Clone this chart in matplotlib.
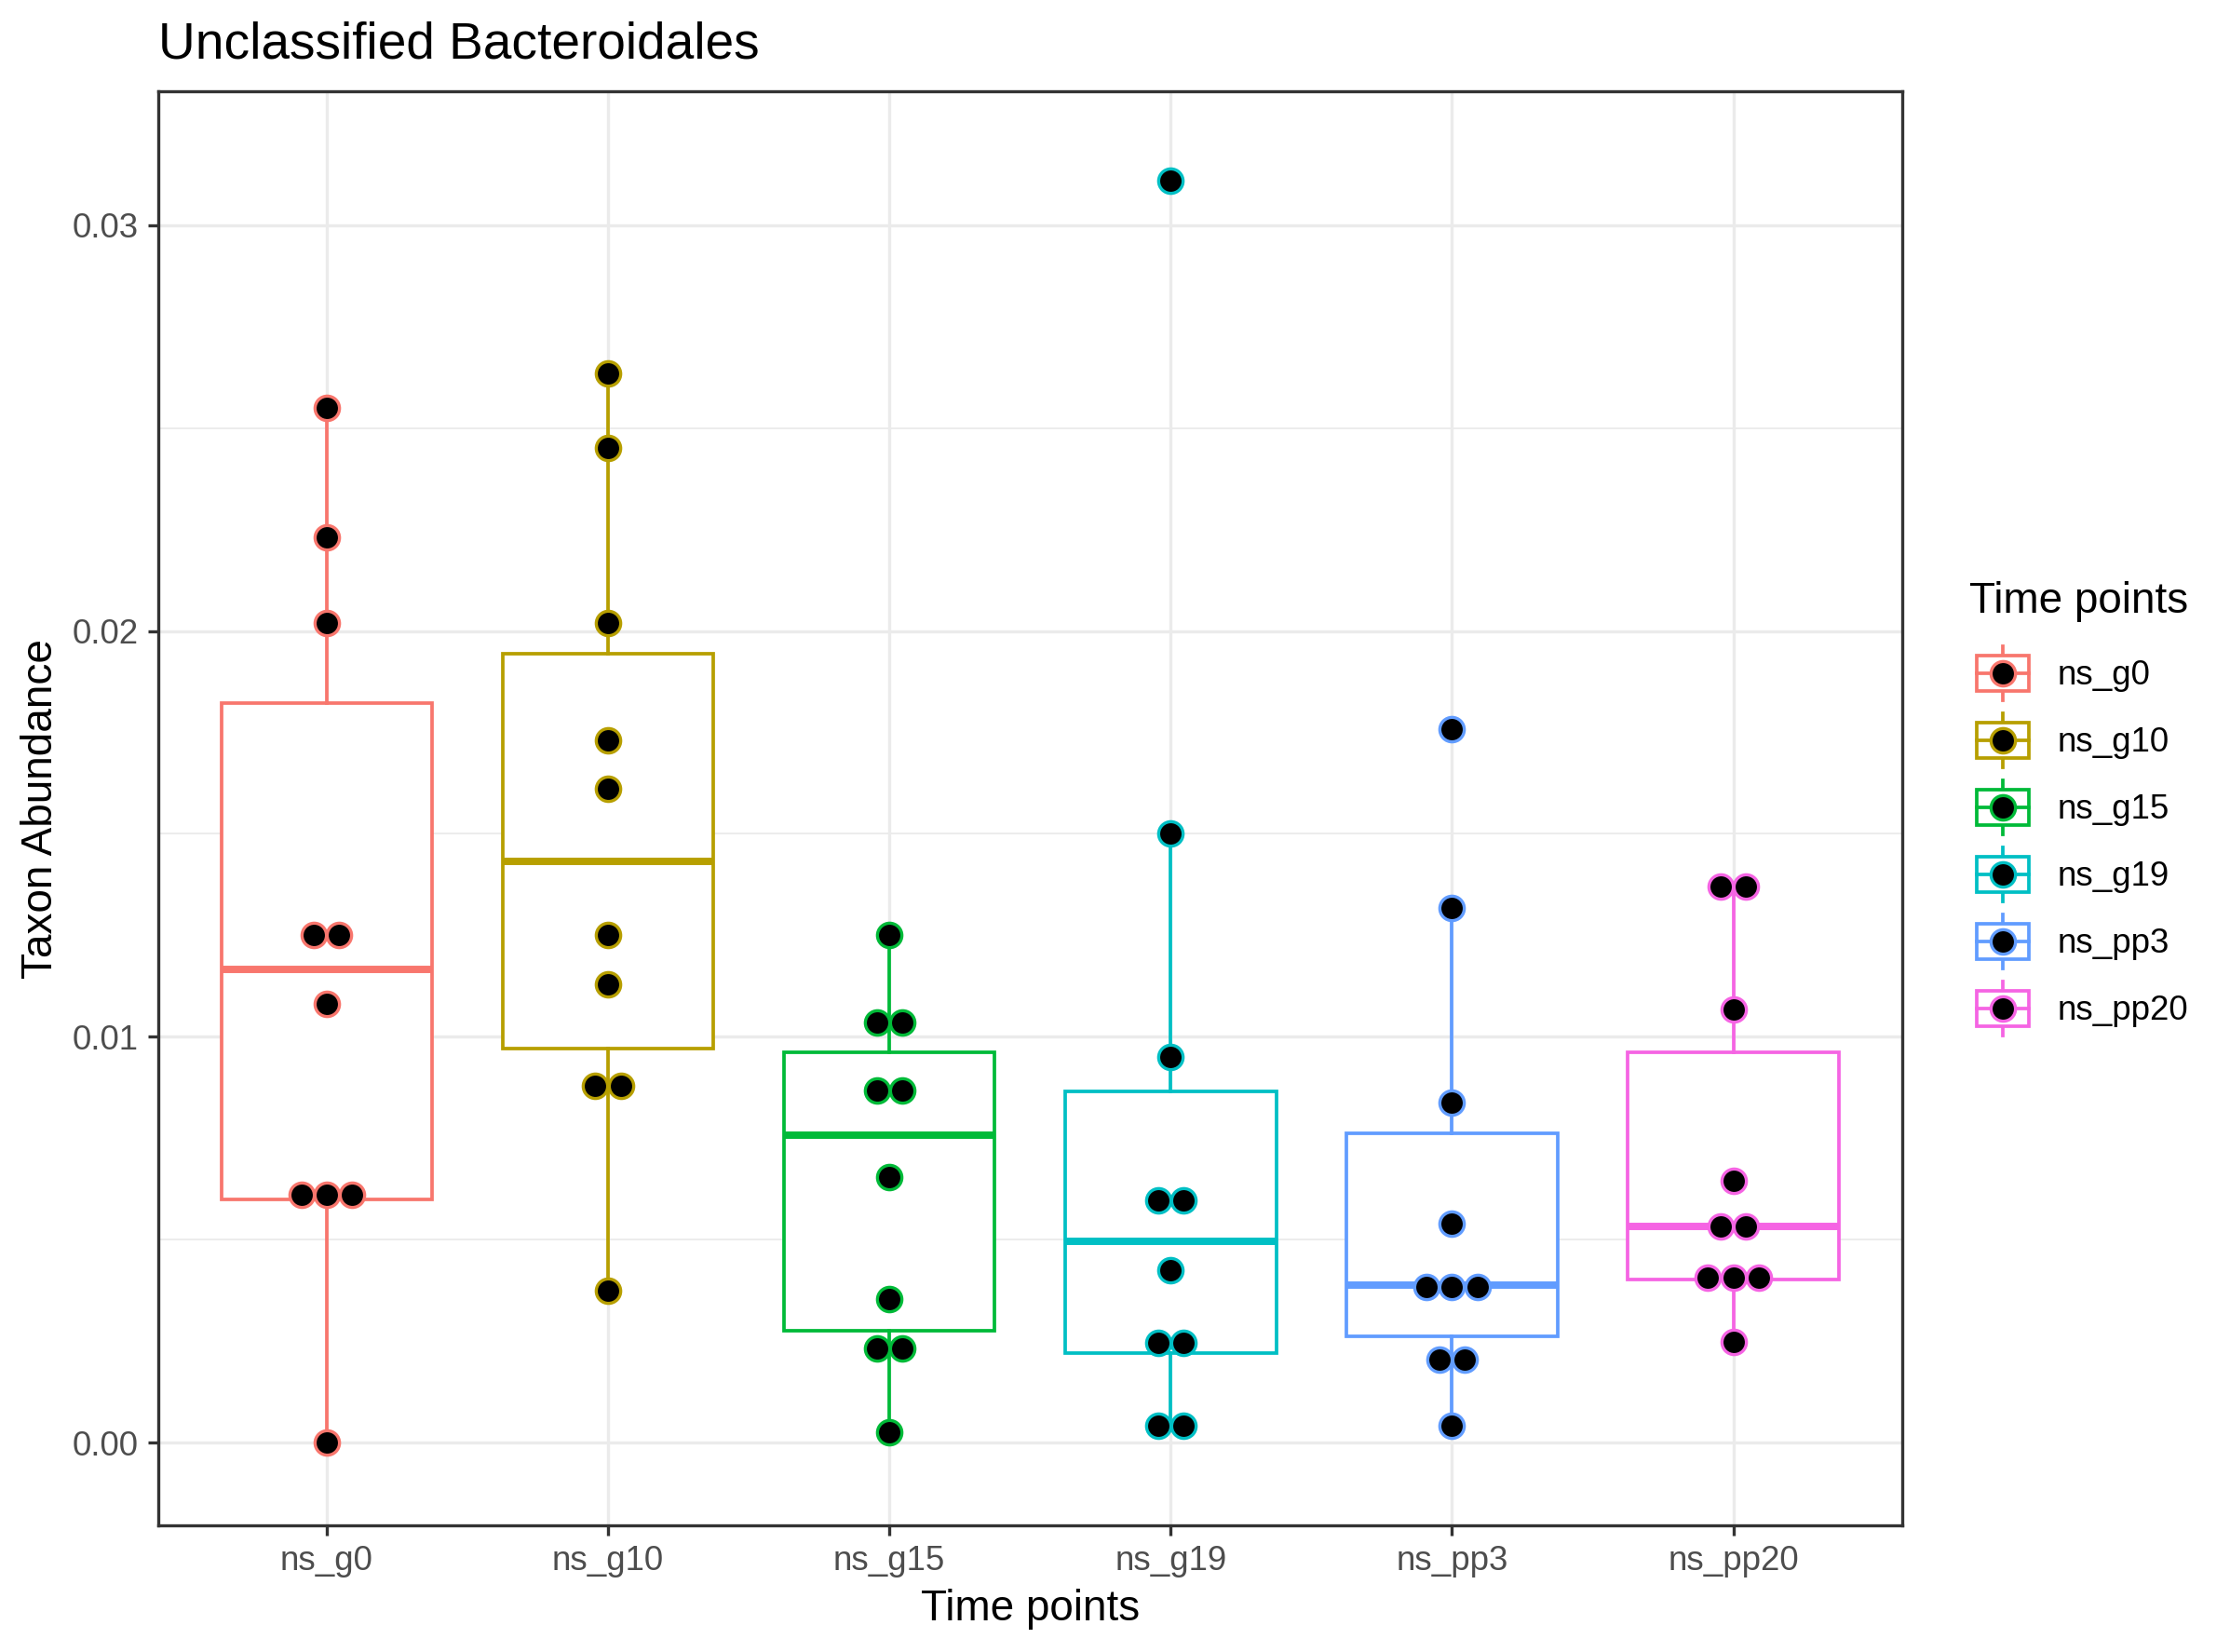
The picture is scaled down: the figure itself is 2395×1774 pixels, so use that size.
import matplotlib
matplotlib.use('Agg')
import matplotlib.pyplot as plt
from matplotlib.patches import Patch, Rectangle
from matplotlib.lines import Line2D
from matplotlib.legend_handler import HandlerBase
from matplotlib.ticker import FixedLocator
import numpy as np

plt.rcParams['font.family'] = ['Liberation Sans', 'DejaVu Sans']

# Groups (time points) and ggplot default hue colours
groups = ['ns_g0', 'ns_g10', 'ns_g15', 'ns_g19', 'ns_pp3', 'ns_pp20']
colors = ['#F8766D', '#B79F00', '#00BA38', '#00BFC4', '#619CFF', '#F564E3']

# Dot values (stacked dots share a value)
pts_g0 = [0.0255, 0.0223, 0.0202, 0.0125, 0.0125, 0.0108, 0.0061, 0.0061, 0.0061, 0.0]
pts_g10 = [0.02635, 0.0245, 0.0202, 0.0173, 0.0161, 0.0125, 0.0113, 0.0088, 0.0088, 0.00375]
pts_g15 = [0.0125, 0.01035, 0.01035, 0.00868, 0.00868, 0.00654, 0.00353, 0.00232, 0.00232, 0.00025]
pts_g19 = [0.0311, 0.0150, 0.0095, 0.00596, 0.00596, 0.00425, 0.00246, 0.00246, 0.00042, 0.00042]
pts_pp3 = [0.01759, 0.01318, 0.00837, 0.0054, 0.00384, 0.00384, 0.00384, 0.00204, 0.00204, 0.00041]
pts_pp20 = [0.0137, 0.0137, 0.01067, 0.00644, 0.00533, 0.00533, 0.00407, 0.00407, 0.00407, 0.00247]
points = [pts_g0, pts_g10, pts_g15, pts_g19, pts_pp3, pts_pp20]

# Box statistics
q1 = [0.00599, 0.00971, 0.00276, 0.00221, 0.00263, 0.00402]
med = [0.01167, 0.01432, 0.00758, 0.00496, 0.00388, 0.00533]
q3 = [0.01823, 0.01945, 0.00962, 0.00866, 0.00762, 0.00961]
whislo = [0.0, 0.00375, 0.00025, 0.00042, 0.00041, 0.00247]
whishi = [0.0255, 0.02635, 0.0125, 0.0150, 0.01318, 0.0137]

yticks = [0.0, 0.01, 0.02, 0.03]
ytick_labels = ['0.00', '0.01', '0.02', '0.03']


class BoxKeyHandler(HandlerBase):
    # boxplot + dot legend key, ggplot style
    def create_artists(self, legend, orig_handle, xdescent, ydescent,
                       width, height, fontsize, trans):
        c = orig_handle.get_edgecolor()
        cx = -xdescent + width / 2
        cy = -ydescent + height / 2
        bw, bh = 13.5, 9.0
        whisk = Line2D([cx, cx], [cy - 7, cy + 7], color=c, lw=0.9, transform=trans)
        box = Rectangle((cx - bw / 2, cy - bh / 2), bw, bh, facecolor='white',
                        edgecolor=c, lw=0.9, transform=trans)
        mline = Line2D([cx - bw / 2, cx + bw / 2], [cy, cy], color=c, lw=0.9,
                       transform=trans)
        dot = Line2D([cx], [cy], marker='o', ms=6.3, mfc='black', mec=c,
                     mew=0.8, ls='none', transform=trans)
        return [whisk, box, mline, dot]


fig = plt.figure(figsize=(2395 / 300, 1774 / 300), dpi=300)
ax = fig.add_axes([0.0708, 0.0764, 0.7822, 0.8684])

for i, g in enumerate(groups):
    c = colors[i]
    stats = [dict(med=med[i], q1=q1[i], q3=q3[i], whislo=whislo[i],
                  whishi=whishi[i], fliers=[])]
    ax.bxp(stats, positions=[i], widths=0.75, patch_artist=True,
           showcaps=False, showfliers=False,
           boxprops=dict(facecolor='white', edgecolor=c, lw=0.9),
           whiskerprops=dict(color=c, lw=0.9),
           medianprops=dict(color=c, lw=1.9, solid_capstyle='butt'),
           manage_ticks=False, zorder=2)

    # swarm-like horizontal spread for stacked dots
    vals = np.array(points[i])
    xs = np.full(len(vals), float(i))
    for v in np.unique(vals):
        idx = np.where(vals == v)[0]
        n = len(idx)
        xs[idx] = i + (np.arange(n) - (n - 1) / 2) * 0.09
    ax.scatter(xs, vals, s=6.3 ** 2, facecolor='black', edgecolor=c,
               linewidth=0.8, zorder=3)

ax.set_xlim(-0.6, 5.6)
ax.set_ylim(-0.00205, 0.0333)
ax.set_xticks(range(len(groups)))
ax.set_xticklabels(groups)
ax.set_yticks(yticks)
ax.set_yticklabels(ytick_labels)
ax.yaxis.set_minor_locator(FixedLocator([0.005, 0.015, 0.025]))

ax.grid(which='major', color='#EBEBEB', lw=0.8, zorder=0)
ax.grid(which='minor', axis='y', color='#EBEBEB', lw=0.45, zorder=0)
ax.set_axisbelow(True)
for sp in ax.spines.values():
    sp.set_color('#333333')
    sp.set_linewidth(0.8)
ax.tick_params(which='major', length=2.75, width=0.8, color='#333333',
               labelcolor='#4D4D4D', labelsize=8.8, pad=2.2)
ax.tick_params(which='minor', length=0)

ax.set_xlabel('Time points', fontsize=11, labelpad=2.75)
ax.set_ylabel('Taxon Abundance', fontsize=11, labelpad=2.75)
ax.set_title('Unclassified Bacteroidales', fontsize=13.2, loc='left', pad=8.4)

handles = [Patch(edgecolor=c, facecolor='white', label=g) for g, c in zip(groups, colors)]
leg = fig.legend(handles=handles, handler_map={Patch: BoxKeyHandler()},
                 loc='upper left', bbox_to_anchor=(0.8831, 0.648), frameon=False,
                 fontsize=8.8, title='Time points', title_fontsize=11,
                 alignment='left', borderpad=0, borderaxespad=0,
                 handlelength=1.964, handleheight=1.455, labelspacing=0.773,
                 handletextpad=0.625)
# a little more room between the legend title and the keys
leg._legend_box.sep = 0.773 * 8.8 + 1.1

fig.savefig('out.png', dpi=300)
